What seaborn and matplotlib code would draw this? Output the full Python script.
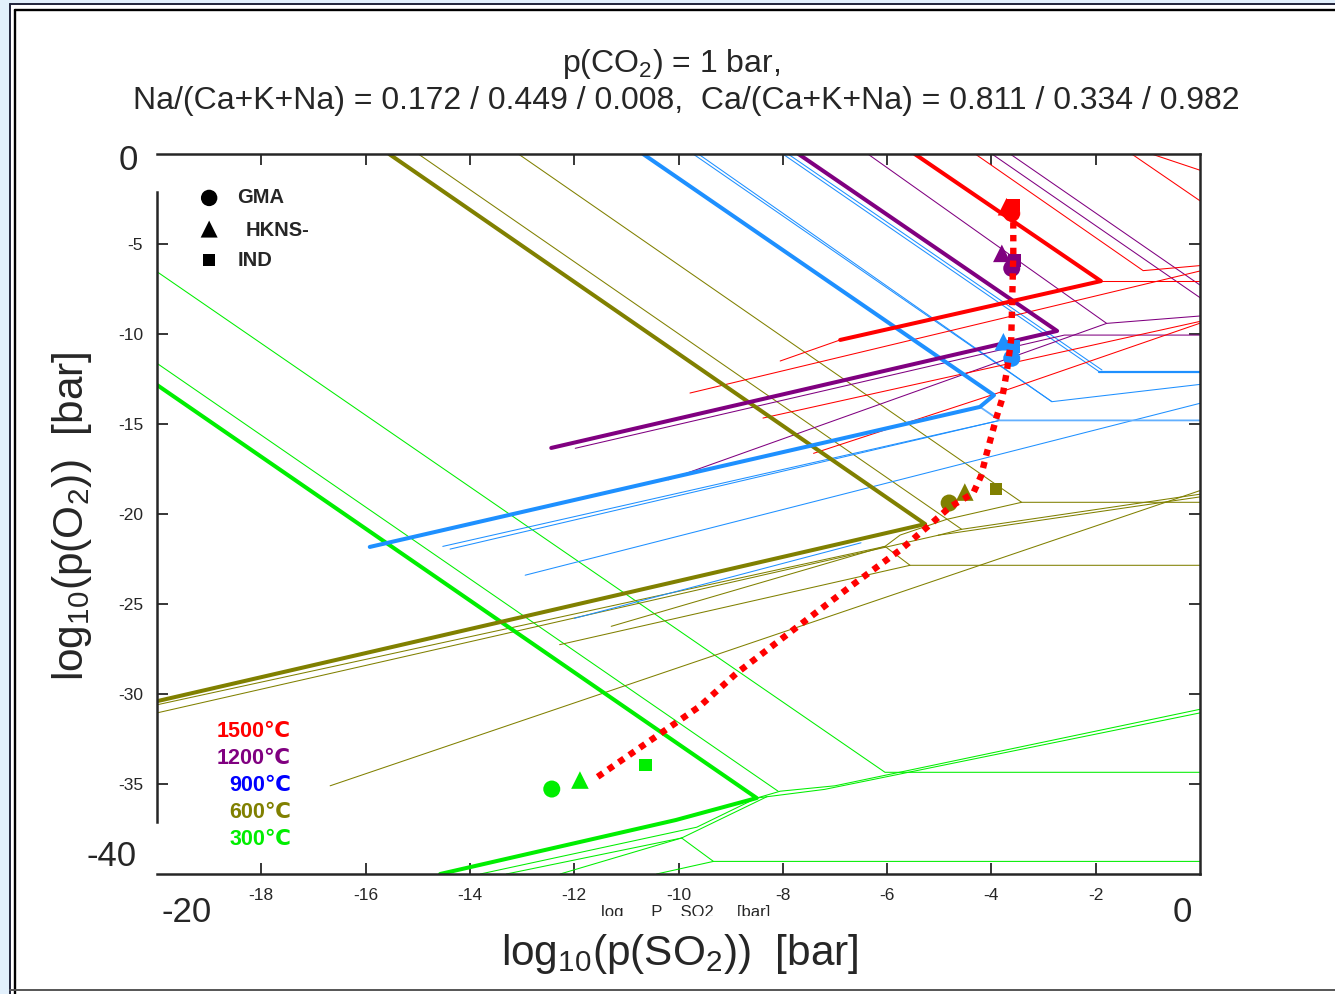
import matplotlib
matplotlib.use("Agg")
import matplotlib.pyplot as plt
import seaborn as sns
from matplotlib.patches import Rectangle
from matplotlib.lines import Line2D

# ------------------------------------------------------------------ data
x_ticks = [-18, -16, -14, -12, -10, -8, -6, -4, -2]
y_ticks = [-5, -10, -15, -20, -25, -30, -35]

# 1500 C (red) boundaries, (log pSO2, log pO2)
red_thick = [(-5.47, 0.0), (-1.90, -7.06), (-6.90, -10.33)]
red_ext = [(-6.90, -10.33), (-8.05, -11.5)]
red_t1 = [(-9.78, -13.28), (0.0, -6.5)]
red_t2 = [(-8.38, -14.67), (0.0, -9.3)]
red_t3 = [(-7.41, -16.63), (-3.9, -13.3), (0.0, -9.4)]
red_hz = [(-1.90, -7.06), (0.0, -7.06)]
red_top1 = [(-4.31, 0.0), (-1.09, -6.48), (0.0, -6.2)]
red_top2 = [(-1.31, 0.0), (0.0, -2.6)]
red_top3 = [(-0.93, 0.0), (0.0, -0.9)]

# 1200 C (purple)
pur_thick = [(-7.70, 0.0), (-2.74, -9.83), (-12.44, -16.33)]
pur_t1 = [(-11.98, -16.35), (-2.6, -10.06), (0.0, -10.06)]
pur_t2 = [(-6.37, 0.0), (-1.79, -9.41), (0.0, -9.0)]
pur_t3 = [(-3.99, 0.0), (0.0, -7.98)]
pur_t4 = [(-3.64, 0.0), (0.0, -7.28)]
pur_t5 = [(-10.2, -18.1), (-1.79, -9.41)]

# 900 C (blue)
blue_thick = [(-10.68, 0.0), (-3.95, -13.4), (-4.22, -14.05), (-15.92, -21.83)]
blue_p1a = [(-8.0, 0.0), (-1.93, -12.1)]
blue_p1b = [(-7.9, 0.0), (-1.88, -12.0)]
blue_hz1 = [(-1.93, -12.1), (0.0, -12.1)]
blue_p2a = [(-9.72, 0.0), (-2.84, -13.76), (0.0, -12.8)]
blue_p2b = [(-9.62, 0.0), (-2.84, -13.76)]
blue_hz2 = [(-4.22, -14.05), (-3.84, -14.8), (0.0, -14.8)]
blue_t1a = [(-14.52, -21.8), (-3.84, -14.8)]
blue_t1b = [(-14.38, -21.95), (-3.84, -14.8)]
blue_t2 = [(-12.94, -23.4), (0.0, -13.85)]
blue_t3 = [(-12.0, -25.8), (-6.5, -21.6)]

# 600 C (olive)
ol_thick = [(-15.55, 0.0), (-5.27, -20.56), (-20.0, -30.4)]
ol_t1 = [(-14.99, 0.0), (-4.57, -20.85), (0.0, -18.9)]
ol_t2 = [(-13.07, 0.0), (-3.42, -19.35), (0.0, -19.35)]
ol_t3 = [(-3.42, -19.35), (-4.86, -20.3), (-5.75, -21.17), (-6.04, -21.8)]
ol_t4 = [(-5.02, -21.18), (-4.57, -20.85)]
ol_t5 = [(-5.02, -21.18), (0.0, -19.05)]
ol_t6 = [(-6.04, -21.8), (-5.56, -22.85), (0.0, -22.85)]
ol_t7 = [(-16.68, -35.1), (0.0, -18.7)]
ol_t8 = [(-20.0, -30.6), (-6.04, -21.8)]
ol_t9 = [(-20.0, -31.05), (-5.02, -21.18)]
ol_t10 = [(-11.29, -26.24), (-6.04, -21.8)]
ol_t11 = [(-12.28, -27.26), (-5.56, -22.85)]

# 300 C (green)
gr_thick = [(-20.0, -12.83), (-8.5, -35.78), (-10.05, -37.0), (-14.57, -40.0)]
gr_t1 = [(-20.0, -11.63), (-8.09, -35.4)]
gr_t2 = [(-20.0, -6.54), (-6.04, -34.35), (0.0, -34.35)]
gr_t3 = [(-8.5, -35.78), (-8.05, -35.4), (-7.0, -35.1), (0.0, -30.85)]
gr_t4 = [(-8.5, -35.78), (-7.2, -35.3), (0.0, -31.05)]
gr_b1 = [(-13.8, -40.0), (-9.65, -37.4), (-8.5, -35.78)]
gr_b2 = [(-13.3, -40.0), (-9.94, -38.0), (-8.3, -35.7)]
gr_b3 = [(-12.27, -40.0), (-9.94, -38.0)]
gr_b4 = [(-9.94, -38.0), (-9.33, -39.3), (0.0, -39.3)]
gr_b5 = [(-10.42, -40.0), (-9.33, -39.3)]

# sample compositions: GMA (circle), HKNS- (triangle), IND (square)
temps = ["1500", "1200", "900", "600", "300"]
gma_x = [-3.61, -3.61, -3.61, -4.81, -12.43]
gma_y = [-3.3, -6.35, -11.35, -19.39, -35.28]
hkns_x = [-3.71, -3.80, -3.77, -4.51, -11.89]
hkns_y = [-2.93, -5.52, -10.43, -18.78, -34.78]
ind_x = [-3.58, -3.55, -3.58, -3.91, -10.64]
ind_y = [-2.83, -5.9, -10.7, -18.61, -33.94]

# path through the samples (red dotted)
path_x = [-11.55, -10.5, -9.6, -8.88, -7.46, -6.71, -5.75, -5.18, -4.79, -4.35,
          -4.2, -4.09, -3.9, -3.8, -3.7, -3.62, -3.6, -3.58, -3.58]
path_y = [-34.6, -32.5, -30.7, -28.83, -25.69, -24.04, -22.0, -20.6, -19.6, -18.85,
          -17.9, -16.63, -14.6, -13.67, -12.0, -10.3, -8.0, -5.5, -3.4]

# ------------------------------------------------------------------ style
sns.set_style("ticks")
plt.rcParams["font.family"] = ["Liberation Sans", "DejaVu Sans"]
plt.rcParams["mathtext.fontset"] = "custom"
plt.rcParams["mathtext.rm"] = "Liberation Sans"
plt.rcParams["mathtext.it"] = "Liberation Sans:italic"
plt.rcParams["mathtext.bf"] = "Liberation Sans:bold"
plt.rcParams["axes.unicode_minus"] = False

RED = "#ff0000"
PUR = "#800080"
BLU = "#1e90ff"
LBL = "#62b0ff"
OLV = "#808000"
GRN = "#00ee00"

W, H = 1335, 994
fig = plt.figure(figsize=(W / 100, H / 100), dpi=100)
fig.patch.set_facecolor("#e2f0fc")


def fx(px):
    return px / W


def fy(py):
    return 1 - py / H


fig.add_artist(Rectangle((fx(10), 0), 1 - fx(10), fy(4), transform=fig.transFigure,
                         facecolor="white", edgecolor="none", zorder=-5))
fig.add_artist(Line2D([fx(10), fx(10)], [0, fy(4)], transform=fig.transFigure, color="#20243a", lw=1.4))
fig.add_artist(Line2D([fx(10), 1], [fy(4), fy(4)], transform=fig.transFigure, color="#20243a", lw=1.4))
fig.add_artist(Line2D([fx(15), fx(15)], [0, fy(9.5)], transform=fig.transFigure, color="black", lw=1.7))
fig.add_artist(Line2D([fx(15), 1], [fy(9.5), fy(9.5)], transform=fig.transFigure, color="black", lw=1.7))
fig.add_artist(Line2D([fx(10), 1], [fy(990), fy(990)], transform=fig.transFigure, color="#555555", lw=1.4))

ax = fig.add_axes([fx(157), fy(874), (1200 - 157) / W, (874 - 154) / H])
ax.set_facecolor("white")


def draw(pts, color, lw, z=2):
    xs = [p[0] for p in pts]
    ys = [p[1] for p in pts]
    sns.lineplot(x=xs, y=ys, sort=False, estimator=None, color=color, lw=lw, ax=ax, zorder=z)


THK, THN = 2.9, 0.75
groups = [
    (GRN, [gr_t1, gr_t2, gr_t3, gr_t4, gr_b1, gr_b2, gr_b3, gr_b4, gr_b5], [gr_thick]),
    (OLV, [ol_t1, ol_t2, ol_t3, ol_t4, ol_t5, ol_t6, ol_t7, ol_t8, ol_t9, ol_t10, ol_t11], [ol_thick]),
    (BLU, [blue_p1a, blue_p1b, blue_p2a, blue_p2b, blue_t1a, blue_t1b, blue_t2, blue_t3], [blue_thick]),
    (PUR, [pur_t1, pur_t2, pur_t3, pur_t4, pur_t5], [pur_thick]),
    (RED, [red_ext, red_t1, red_t2, red_t3, red_hz, red_top1, red_top2, red_top3], [red_thick]),
]
for color, thins, thicks in groups:
    for ln in thins:
        draw(ln, color, THN)
    for ln in thicks:
        draw(ln, color, THK, z=2.5)
draw(blue_hz1, BLU, 1.6)
draw(blue_hz2, LBL, 1.3)

# markers
mcols = [RED, PUR, BLU, OLV, GRN]
for i in range(len(temps)):
    sns.scatterplot(x=[gma_x[i]], y=[gma_y[i]], marker="o", s=150, color=mcols[i],
                    edgecolor="none", ax=ax, zorder=3)
    sns.scatterplot(x=[hkns_x[i]], y=[hkns_y[i]], marker="^", s=160, color=mcols[i],
                    edgecolor="none", ax=ax, zorder=3)
    sns.scatterplot(x=[ind_x[i]], y=[ind_y[i]], marker="s", s=85, color=mcols[i],
                    edgecolor="none", ax=ax, zorder=3)

sns.lineplot(x=path_x, y=path_y, sort=False, estimator=None, color=RED, lw=4.6,
             ax=ax, zorder=4, linestyle=(0, (1, 1)))

# legend (shapes)
leg_x = -19.0
sns.scatterplot(x=[leg_x], y=[-2.44], marker="o", s=140, color="black", edgecolor="none", ax=ax, zorder=5)
sns.scatterplot(x=[leg_x], y=[-4.17], marker="^", s=150, color="black", edgecolor="none", ax=ax, zorder=5)
sns.scatterplot(x=[leg_x], y=[-5.89], marker="s", s=80, color="black", edgecolor="none", ax=ax, zorder=5)
ax.text(-18.47, -2.44, "GMA", fontsize=14.5, fontweight="bold", va="center", ha="left")
ax.text(-18.31, -4.25, "HKNS-", fontsize=14.5, fontweight="bold", va="center", ha="left")
ax.text(-18.45, -5.89, "IND", fontsize=14.5, fontweight="bold", va="center", ha="left")

# temperature legend
tcols = [RED, PUR, "#0000ff", OLV, GRN]
ty = [-32.06, -33.56, -35.06, -36.56, -38.06]
for t, c, yy in zip(temps, tcols, ty):
    ax.text(-17.43, yy, t + "\u2103", color=c, fontsize=15.5, fontweight="bold",
            ha="right", va="center", family=["Liberation Sans", "DejaVu Sans"])

ax.set_xlim(-20, 0)
ax.set_ylim(-40, 0)
ax.set_xticks(x_ticks)
ax.set_xticklabels([str(v) for v in x_ticks])
ax.set_yticks(y_ticks)
ax.set_yticklabels([str(v) for v in y_ticks])
ax.tick_params(direction="in", length=8, width=1.3, top=True, right=True,
               labelsize=12.5, pad=10)
ax.set_xlabel("")
ax.set_ylabel("")
for s in ax.spines.values():
    s.set_linewidth(1.8)
    s.set_visible(True)
    s.set_zorder(6)
ax.spines["left"].set_bounds(-37.1, -2.1)

# big end labels
fig.text(fx(128), fy(160), "0", fontsize=25, ha="center", va="center")
fig.text(fx(112), fy(857), "-40", fontsize=25, ha="center", va="center")
fig.text(fx(187), fy(912), "-20", fontsize=25, ha="center", va="center")
fig.text(fx(1182), fy(912), "0", fontsize=25, ha="center", va="center")

# titles and axis labels
fig.text(fx(671), fy(64), r"p(CO$_2$) = 1 bar,", fontsize=23, ha="center", va="center")
fig.text(fx(686), fy(101),
         "Na/(Ca+K+Na) = 0.172 / 0.449 / 0.008,  Ca/(Ca+K+Na) = 0.811 / 0.334 / 0.982",
         fontsize=23, ha="center", va="center")
fig.text(fx(680), fy(954), r"log$_{10}$(p(SO$_2$))  [bar]", fontsize=30.5, ha="center", va="center")
fig.text(fx(72), fy(516), r"log$_{10}$(p(O$_2$))  [bar]", fontsize=30.5, ha="center", va="center",
         rotation=90)

# partially hidden secondary x label
fig.text(fx(686), fy(913), "log      P    SO2     [bar]", fontsize=12, ha="center", va="center")
fig.add_artist(Rectangle((fx(570), fy(926)), fx(230), fy(916) - fy(926), transform=fig.transFigure,
                         facecolor="white", edgecolor="none", zorder=10))

fig.savefig("out.png", dpi=100, facecolor=fig.get_facecolor())
